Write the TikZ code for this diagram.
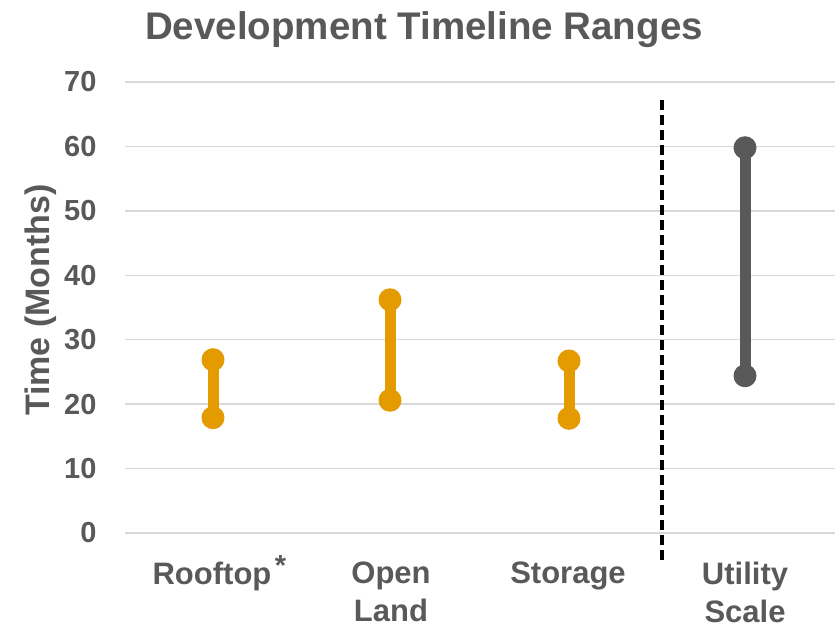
\documentclass[tikz,border=0pt]{standalone}
\usepackage{fontspec}
\setmainfont{Liberation Sans}
\usetikzlibrary{positioning}
\definecolor{txt}{HTML}{595959}
\definecolor{grid}{HTML}{D9D9D9}
\definecolor{amber}{HTML}{E39B00}
\definecolor{slate}{HTML}{595959}

\begin{document}
\begin{tikzpicture}[x=1pt,y=-1pt,
    lbl/.style={text=txt,font=\bfseries\fontsize{29}{37}\selectfont},
    cat/.style={text=txt,font=\bfseries\fontsize{31}{38}\selectfont,align=center,anchor=north,inner sep=0pt},
    dot/.style={circle,inner sep=0pt,minimum size=23pt,fill=#1},
    bar/.style={line width=11pt,draw=#1}]
    \useasboundingbox (0,0) rectangle (835,630);
    \node[text=txt,font=\bfseries\fontsize{38.5}{42}\selectfont] (title) at (424,30) {Development Timeline Ranges};
    % grid and tick labels, 10 months apart
    \foreach \v in {0,10,...,70} {
        \draw[grid,line width=1.5pt] (125,533-6.443*\v) -- (835,533-6.443*\v);
        \node[lbl,anchor=east] at (100,533-6.443*\v) {\v};
    }
    \node[text=txt,font=\bfseries\fontsize{34}{38}\selectfont,rotate=90] (ylabel) at (41,300) {Time (Months)};
    % ranges: low and high ends in months
    \foreach \name/\x/\lo/\hi/\col in {roof/213/17.9/26.9/amber, land/390/20.6/36.2/amber,
            stor/569/17.8/26.7/amber, util/745/24.4/59.8/slate} {
        \node[dot=\col] (\name-lo) at (\x,533-6.443*\lo) {};
        \node[dot=\col] (\name-hi) at (\x,533-6.443*\hi) {};
        \draw[bar=\col] (\name-lo.center) -- (\name-hi.center);
    }
    \draw[black,line width=4pt,dash pattern=on 10pt off 5pt] (662,100) -- (662,560);
    \node[cat] (roof) at (212,562) {Rooftop};
    \node[lbl,inner sep=0pt,anchor=north west] (note) at ([xshift=3pt,yshift=7pt]roof.north east) {*};
    \node[cat] (land) at (391,562) {Open\\Land};
    \node[cat] (stor) at (568,562) {Storage};
    \node[cat] (util) at (745,562) {Utility\\Scale};
\end{tikzpicture}
\end{document}
